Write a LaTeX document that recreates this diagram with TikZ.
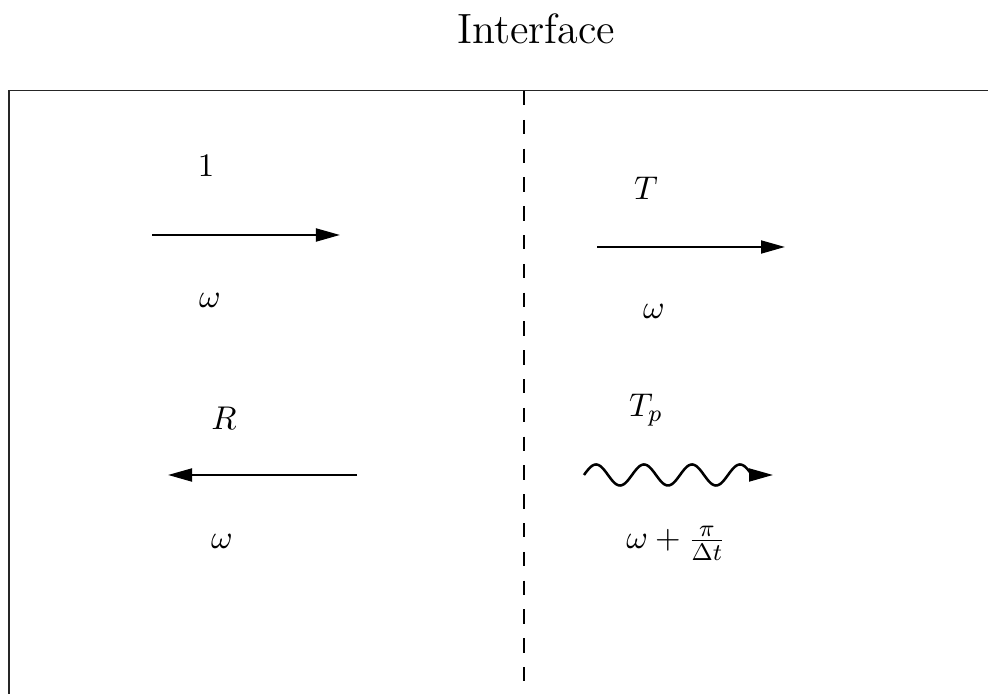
\documentclass[tikz,border=0pt]{standalone}
\usetikzlibrary{arrows.meta}
\begin{document}
\begin{tikzpicture}[x=0.3333pt,y=-0.3333pt,
  lbl/.style={anchor=base,inner sep=0pt,font=\fontsize{11}{13}\selectfont},
  ray/.style={line width=0.72pt,-{Triangle[length=8pt,width=4.3pt]}},
  wave/.style={line width=0.85pt},
  frameline/.style={line width=0.4pt,draw=black!85},
  iface/.style={line width=0.7pt,dash pattern=on 4.8pt off 4.8pt}]
\useasboundingbox (0,0) rectangle (988,694);
% title
\node[anchor=base,inner sep=0pt,font=\fontsize{14.1}{17}\selectfont] (title) at (536,44) {Interface};
% frame
\coordinate (fbl) at (9,694);
\coordinate (ftl) at (9,90.5);
\coordinate (ftr) at (988,90.5);
\draw[frameline] (fbl) -- (ftl) -- (ftr);
% interface line
\coordinate (itop) at (524,91);
\coordinate (ibot) at (524,684);
\draw[iface] (itop) -- (ibot);
% incident
\coordinate (a1s) at (152,235);
\coordinate (a1e) at (340,235);
\draw[ray] (a1s) -- (a1e);
\node[lbl] (l1) at (206,177) {$1$};
\node[lbl] (w1) at (210,308) {$\omega$};
% reflected
\coordinate (a2s) at (357,475);
\coordinate (a2e) at (168,475);
\draw[ray] (a2s) -- (a2e);
\node[lbl] (lR) at (224,430) {$R$};
\node[lbl] (w2) at (222,549) {$\omega$};
% transmitted
\coordinate (a3s) at (597,247);
\coordinate (a3e) at (785,247);
\draw[ray] (a3s) -- (a3e);
\node[lbl] (lT) at (646,200) {$T$};
\node[lbl] (w3) at (654,319) {$\omega$};
% transmitted, shifted
\draw[wave] plot[domain=0:168,samples=150,smooth] ({584+\x},{475-10.5*sin(7.5*\x)});
\coordinate (wend) at (752,475);
\coordinate (wtip) at (773,475);
\draw[ray] (wend) -- (wtip);
\node[lbl] (lTp) at (646,417) {$T_p$};
\node[lbl] (w4) at (676,549) {$\omega+\frac{\pi}{\Delta t}$};
\end{tikzpicture}
\end{document}
